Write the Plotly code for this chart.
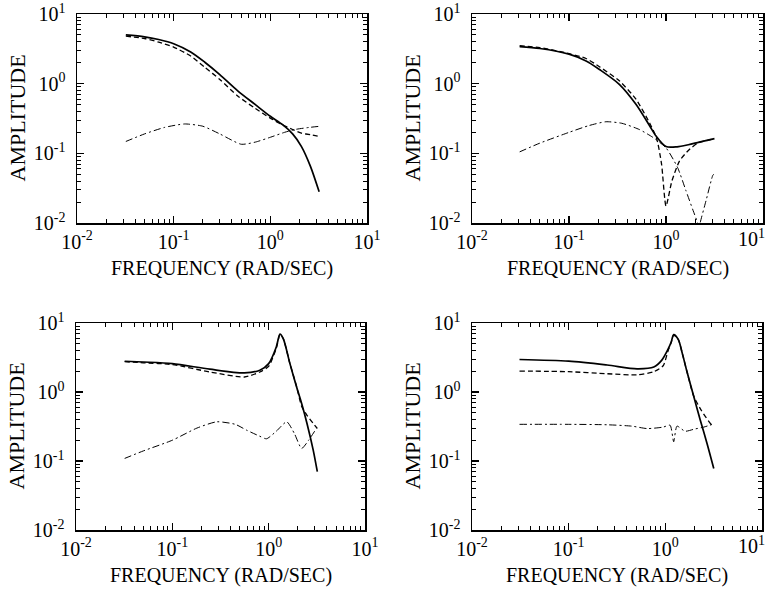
import plotly.graph_objects as go

# ---------------- data ----------------
# Panel 1 (top-left)
p1_solid_f = [0.032, 0.05, 0.07, 0.1, 0.15, 0.21, 0.3, 0.46, 0.7, 1.0, 1.34, 1.7, 2.1, 2.6, 3.2]
p1_solid_a = [5.0, 4.7, 4.3, 3.75, 2.85, 2.03, 1.35, 0.79, 0.5, 0.34, 0.258, 0.19, 0.125, 0.065, 0.028]
p1_dash_f = [0.032, 0.05, 0.07, 0.1, 0.15, 0.21, 0.3, 0.46, 0.7, 1.0, 1.34, 1.7, 2.1, 2.6, 3.2]
p1_dash_a = [4.8, 4.45, 3.95, 3.35, 2.5, 1.72, 1.15, 0.665, 0.44, 0.32, 0.255, 0.22, 0.195, 0.185, 0.175]
p1_dd_f = [0.032, 0.05, 0.08, 0.13, 0.2, 0.3, 0.5, 0.7, 1.0, 1.4, 1.8, 2.5, 3.2]
p1_dd_a = [0.148, 0.19, 0.235, 0.264, 0.245, 0.19, 0.135, 0.145, 0.17, 0.2, 0.22, 0.235, 0.244]

# Panel 2 (top-right)
p2_solid_f = [0.031, 0.05, 0.1, 0.15, 0.206, 0.33, 0.49, 0.68, 0.79, 1.0, 1.3, 1.7, 2.2, 3.16]
p2_solid_a = [3.4, 3.2, 2.65, 2.12, 1.6, 0.98, 0.506, 0.247, 0.177, 0.125, 0.124, 0.133, 0.145, 0.163]
p2_dash_f = [0.031, 0.05, 0.1, 0.15, 0.206, 0.33, 0.49, 0.68, 0.8, 0.9, 1.0, 1.15, 1.38, 1.7, 2.12, 2.6, 3.16]
p2_dash_a = [3.5, 3.3, 2.7, 2.3, 1.75, 1.1, 0.6, 0.27, 0.165, 0.07, 0.0175, 0.04, 0.078, 0.11, 0.14, 0.152, 0.163]
p2_dd_f = [0.031, 0.05, 0.1, 0.16, 0.24, 0.35, 0.53, 0.73, 1.0, 1.32, 1.6, 1.9, 2.12, 2.2, 2.25, 2.6, 3.03, 3.1]
p2_dd_a = [0.105, 0.14, 0.2, 0.25, 0.284, 0.27, 0.22, 0.17, 0.12, 0.062, 0.0295, 0.0152, 0.01, 0.008, 0.01, 0.0215, 0.048, 0.05]

# Panel 3 (bottom-left)
p3_solid_f = [0.032, 0.05, 0.1, 0.245, 0.56, 0.81, 1.0, 1.2, 1.31, 1.42, 1.66, 1.95, 2.2, 2.5, 2.9, 3.2]
p3_solid_a = [2.79, 2.72, 2.58, 2.14, 1.89, 2.07, 2.58, 4.5, 6.9, 5.9, 2.6, 1.18, 0.68, 0.35, 0.144, 0.07]
p3_dash_f = [0.032, 0.05, 0.1, 0.245, 0.56, 0.81, 1.0, 1.2, 1.31, 1.42, 1.66, 1.95, 2.2, 2.5, 2.9, 3.2]
p3_dash_a = [2.75, 2.65, 2.5, 1.95, 1.65, 1.95, 2.36, 4.3, 6.8, 5.9, 2.6, 1.2, 0.62, 0.46, 0.35, 0.296]
p3_dd_f = [0.032, 0.05, 0.1, 0.18, 0.29, 0.45, 0.59, 0.8, 0.95, 1.2, 1.54, 1.85, 2.2, 2.6, 3.1]
p3_dd_a = [0.109, 0.14, 0.2, 0.3, 0.37, 0.34, 0.28, 0.23, 0.21, 0.27, 0.37, 0.25, 0.152, 0.2, 0.29]

# Panel 4 (bottom-right)
p4_solid_f = [0.031, 0.1, 0.25, 0.51, 0.76, 0.92, 1.07, 1.15, 1.22, 1.36, 1.5, 1.67, 1.96, 2.3, 2.7, 3.17]
p4_solid_a = [2.96, 2.8, 2.46, 2.17, 2.3, 2.9, 4.2, 5.3, 6.8, 5.8, 3.6, 2.0, 0.88, 0.39, 0.18, 0.078]
p4_dash_f = [0.031, 0.1, 0.25, 0.51, 0.76, 0.95, 1.07, 1.15, 1.22, 1.36, 1.5, 1.67, 1.96, 2.37, 3.01, 3.17]
p4_dash_a = [2.01, 1.97, 1.84, 1.77, 1.97, 2.4, 4.0, 5.2, 6.7, 5.8, 3.6, 2.0, 0.88, 0.535, 0.336, 0.33]
p4_dd_f = [0.031, 0.1, 0.25, 0.45, 0.65, 0.95, 1.12, 1.22, 1.32, 1.6, 2.0, 2.5, 3.17]
p4_dd_a = [0.34, 0.34, 0.335, 0.32, 0.295, 0.31, 0.33, 0.19, 0.32, 0.27, 0.29, 0.31, 0.345]

tick_vals = [0.01, 0.1, 1, 10]
tick_text = ["10<sup>-2</sup>", "10<sup>-1</sup>", "10<sup>0</sup>", "10<sup>1</sup>"]
x_title = "FREQUENCY (RAD/SEC)"
y_title = "AMPLITUDE"

panels = [
    (p1_solid_f, p1_solid_a, p1_dash_f, p1_dash_a, p1_dd_f, p1_dd_a),
    (p2_solid_f, p2_solid_a, p2_dash_f, p2_dash_a, p2_dd_f, p2_dd_a),
    (p3_solid_f, p3_solid_a, p3_dash_f, p3_dash_a, p3_dd_f, p3_dd_a),
    (p4_solid_f, p4_solid_a, p4_dash_f, p4_dash_a, p4_dd_f, p4_dd_a),
]

# ---------------- layout ----------------
W, H = 767, 591
# pixel boxes (left, right, top, bottom)
boxes = [(77, 367, 14, 223), (472, 763, 14, 223), (76, 365, 323, 530), (472, 762, 323, 530)]

FONT = "Liberation Serif, Times New Roman, serif"
minor_vals = [m * 10 ** k for k in range(-2, 1) for m in range(2, 10)]

fig = go.Figure()
layout = dict(
    width=W, height=H, margin=dict(l=0, r=0, t=0, b=0, autoexpand=False),
    paper_bgcolor="white", plot_bgcolor="white", showlegend=False,
    font=dict(family=FONT, size=20, color="black"),
)
annotations = []
for i, (box, pdata) in enumerate(zip(boxes, panels)):
    n = "" if i == 0 else str(i + 1)
    xa, ya = "x" + n, "y" + n
    l, r, t, b = box
    right_col = i % 2 == 1
    sf, sa, df, da, ddf, dda = pdata
    fig.add_trace(go.Scatter(x=sf, y=sa, xaxis=xa, yaxis=ya, mode="lines",
                             line=dict(color="black", width=1.7, shape="spline", smoothing=0.8)))
    fig.add_trace(go.Scatter(x=df, y=da, xaxis=xa, yaxis=ya, mode="lines",
                             line=dict(color="black", width=1.3, dash="5px,3px", shape="spline", smoothing=0.6)))
    fig.add_trace(go.Scatter(x=ddf, y=dda, xaxis=xa, yaxis=ya, mode="lines",
                             line=dict(color="black", width=1.0, dash="7px,3px,2px,3px", shape="spline", smoothing=0.6)))
    common = dict(
        type="log", showgrid=False, zeroline=False, showline=True, linecolor="black", linewidth=1.5,
        mirror="allticks", ticks="inside", ticklen=7, tickwidth=1.2, tickcolor="black",
        tickmode="array", tickvals=tick_vals, automargin=False,
        tickfont=dict(family=FONT, size=20, color="black"),
        minor=dict(ticks="inside", ticklen=4, tickwidth=1, tickcolor="black",
                   tickmode="array", tickvals=minor_vals, showgrid=False),
    )
    # the last x label of the right-hand column sits at the page edge: drawn as an annotation
    x_text = tick_text[:-1] + [""] if right_col else tick_text
    layout["xaxis" + n] = dict(common, ticktext=x_text, domain=[l / W, r / W], range=[-2, 1],
                               anchor=ya, ticklabelstandoff=0)
    layout["yaxis" + n] = dict(common, ticktext=tick_text, domain=[1 - b / H, 1 - t / H], range=[-2, 1],
                               anchor=xa, ticklabelstandoff=6)
    if right_col:
        annotations.append(dict(text=tick_text[-1], xref="paper", yref="paper", x=1.0, y=1 - (b + 1) / H,
                                showarrow=False, xanchor="right", yanchor="top",
                                font=dict(family=FONT, size=20, color="black")))
    annotations.append(dict(text=x_title, xref="paper", yref="paper", x=(l + r) / 2 / W, y=1 - (b + 45) / H,
                            showarrow=False, xanchor="center", yanchor="middle",
                            font=dict(family=FONT, size=20, color="black")))
    annotations.append(dict(text=y_title, xref="paper", yref="paper", x=(l - 60) / W, y=1 - (t + b) / 2 / H,
                            showarrow=False, xanchor="center", yanchor="middle", textangle=-90,
                            font=dict(family=FONT, size=22, color="black")))
layout["annotations"] = annotations
fig.update_layout(**layout)
fig.write_html("out.html", config={"displayModeBar": False, "staticPlot": True},
               post_script="document.body.style.margin='0';document.body.style.overflow='hidden';")
